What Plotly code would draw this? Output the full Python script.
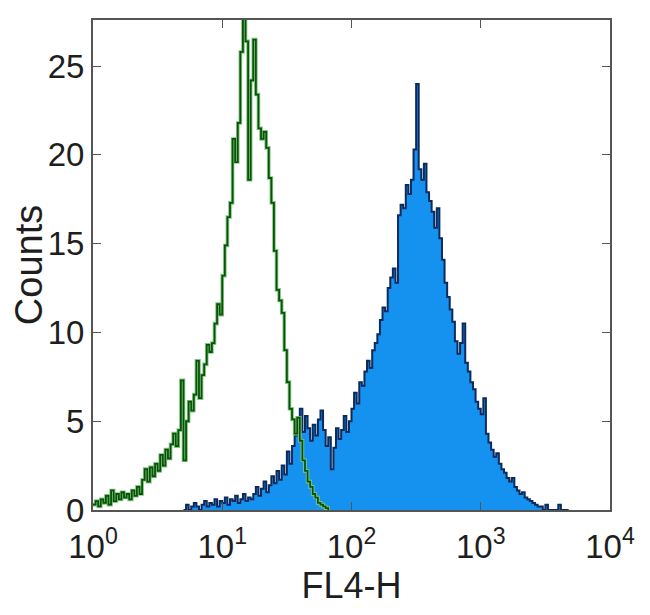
"""
Flow cytometry histogram: FL4-H, isotype control (green) vs stained (blue).
"""

import plotly.graph_objects as go

# histogram bins: log10(FL4-H) of the first bin and bin width (decades)
BIN_WIDTH = 0.02
green_start = 0.00
blue_start = 0.70

# isotype control counts, one per bin from green_start
green_counts = [
    0.3, 0.5, 0.2, 0.6, 0.4,
    0.8, 0.3, 1.1, 0.5, 0.9,
    0.6, 1.0, 0.7, 0.9, 0.6,
    1.1, 0.8, 1.3, 0.9, 1.7,
    2.3, 1.6, 2.4, 1.9, 2.6,
    2.2, 3.1, 2.5, 3.4, 2.9,
    3.7, 4.3, 3.6, 4.5, 7.3,
    2.8, 5.0, 6.1, 5.6, 6.5,
    8.4, 6.3, 7.6, 8.2, 9.3,
    8.9, 9.4, 10.5, 11.6, 11.0,
    13.2, 14.9, 16.5, 17.3, 20.9,
    19.6, 21.8, 25.8, 28.0, 26.4,
    18.6, 24.2, 26.5, 23.4, 21.5,
    20.9, 21.3, 20.4, 18.7, 17.3,
    14.6, 12.4, 11.8, 11.1, 9.0,
    7.2, 5.7, 5.1, 4.3, 5.2,
    3.9, 2.8, 2.2, 1.6, 1.3,
    0.9, 0.7, 0.4, 0.3, 0.2,
    0.1, 0.0,
]

# stained sample counts, one per bin from blue_start
blue_counts = [
    0.0, 0.3, 0.0, 0.2, 0.4,
    0.2, 0.0, 0.3, 0.5, 0.2,
    0.4, 0.3, 0.6, 0.2, 0.5,
    0.4, 0.7, 0.3, 0.6, 0.5,
    0.8, 0.4, 0.6, 0.9, 0.5,
    0.7, 0.6, 0.9, 1.3, 0.8,
    1.2, 1.6, 1.0, 1.4, 1.9,
    1.5, 2.2, 1.7, 2.5, 2.0,
    3.3, 2.6, 3.6, 4.2, 4.9,
    5.7, 4.4, 5.3, 4.6, 3.9,
    4.8, 4.2, 5.1, 5.6, 4.5,
    3.6, 4.1, 2.3, 3.5, 4.6,
    4.0, 4.5, 5.3, 4.4, 5.0,
    5.7, 6.6, 6.0, 7.2, 7.0,
    7.8, 8.4, 8.0, 9.0, 9.4,
    9.9, 10.7, 11.4, 11.2, 12.5,
    13.1, 13.6, 12.8, 16.6, 17.2,
    17.0, 18.3, 17.8, 18.6, 20.3,
    24.0, 19.2, 18.6, 19.5, 17.9,
    17.4, 16.8, 15.9, 17.0, 15.3,
    14.1, 12.8, 12.0, 11.3, 10.6,
    9.5, 8.8, 9.4, 10.5, 8.3,
    7.8, 7.2, 6.8, 6.1, 5.7,
    5.4, 6.3, 4.3, 3.8, 3.4,
    3.0, 3.2, 2.6, 2.3, 2.1,
    1.8, 1.6, 1.8, 1.3, 1.1,
    0.9, 1.0, 0.7, 0.6, 0.5,
    0.4, 0.3, 0.2, 0.2, 0.0,
    0.3, 0.0, 0.0, 0.0, 0.0,
    0.3, 0.0, 0.0, 0.0, 0.0,
]

x_tickvals = [1, 10, 100, 1000, 10000]
x_ticktext = ['10<sup>0</sup>', '10<sup>1</sup>', '10<sup>2</sup>',
              '10<sup>3</sup>', '10<sup>4</sup>']
y_tickvals = [0, 5, 10, 15, 20, 25]


def bin_edges(start, n):
    """FL4-H value at the left edge of each bin."""
    return [10 ** (start + i * BIN_WIDTH) for i in range(n)]


FONT = 'Liberation Sans, Arial, sans-serif'
AXIS_COLOR = '#555555'

fig = go.Figure()

# stained sample: filled blue histogram with dark outline
fig.add_trace(go.Scatter(
    x=bin_edges(blue_start, len(blue_counts)),
    y=blue_counts,
    mode='lines',
    line=dict(shape='hv', color='#0c2a5c', width=2),
    fill='tozeroy',
    fillcolor='#1591f0',
    hoverinfo='skip',
))

# isotype control: green outline (light halo under dark core)
green_x = bin_edges(green_start, len(green_counts))
fig.add_trace(go.Scatter(
    x=green_x, y=green_counts, mode='lines',
    line=dict(shape='hv', color='#80c880', width=3.6),
    hoverinfo='skip',
))
fig.add_trace(go.Scatter(
    x=green_x, y=green_counts, mode='lines',
    line=dict(shape='hv', color='#0a520a', width=1.8),
    hoverinfo='skip',
))

# page body adds an 8 px offset, margins account for it
fig.update_layout(
    width=650,
    height=615,
    margin=dict(l=85, r=48, t=10, b=113),
    paper_bgcolor='white',
    plot_bgcolor='white',
    showlegend=False,
    font=dict(family=FONT, size=33, color='#1e1e1e'),
)

fig.update_xaxes(
    type='log',
    range=[0, 4],
    tickvals=x_tickvals,
    ticktext=x_ticktext,
    ticks='inside',
    ticklen=8,
    tickcolor=AXIS_COLOR,
    ticklabelstandoff=6,
    showline=True,
    linecolor=AXIS_COLOR,
    linewidth=2,
    mirror='allticks',
    showgrid=False,
    zeroline=False,
    title=dict(text='FL4-H', standoff=0, font=dict(size=36)),
)

fig.update_yaxes(
    range=[0, 27.6],
    tickvals=y_tickvals,
    ticks='inside',
    ticklen=8,
    tickcolor=AXIS_COLOR,
    showline=True,
    linecolor=AXIS_COLOR,
    linewidth=2,
    mirror='allticks',
    showgrid=False,
    zeroline=False,
    title=dict(text='Counts', standoff=0, font=dict(size=38)),
)

fig.write_html("out.html")
